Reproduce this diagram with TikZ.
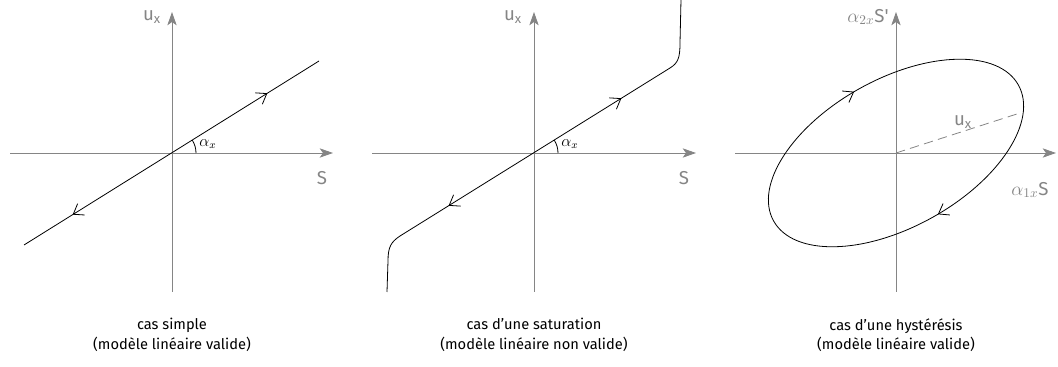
\documentclass[tikz,border=0pt]{standalone}
\usepackage{fontspec}
\setmainfont{Fira Sans}
\usetikzlibrary{arrows.meta,decorations.markings,positioning}
\definecolor{axisgray}{HTML}{858585}

\begin{document}
\begin{tikzpicture}[x=0.75pt,y=0.75pt,
ax/.style={draw=axisgray,line width=0.7pt,-{Stealth[length=10pt,width=7pt,inset=2.5pt]}},
crv/.style={draw=black,line width=0.6pt},
lbl/.style={text=axisgray,font=\fontsize{14}{16}\selectfont,inner sep=1pt},
legende/.style={align=center,font=\fontsize{11}{14.5}\selectfont},
barb/.style={postaction={decorate,decoration={markings,
  mark=at position #1 with {\arrow{Straight Barb[length=7pt,width=10pt]}}}}},
rbarb/.style={postaction={decorate,decoration={markings,
  mark=at position #1 with {\arrowreversed{Straight Barb[length=7pt,width=10pt]}}}}}]
\useasboundingbox (0,0) rectangle (1058,367);

% cas simple
\begin{scope}[shift={(172,214)}]
\coordinate (o1) at (0,0);
\draw[ax] (-162,0) -- (161,0);
\draw[ax] (0,-139) -- (0,141);
\draw[crv,barb=0.825,rbarb=0.165] (-148,-92) -- (147,92);
\draw[crv] (24,0) arc (0:32:24);
\node[font=\large] (a1) at (36,9) {$\alpha_x$};
\node[lbl] (u1) at (-20,136) {u\textsubscript{x}};
\node[lbl] (s1) at (150,-25) {S};
\end{scope}

% cas d'une saturation
\begin{scope}[shift={(534,214)}]
\coordinate (o2) at (0,0);
\draw[ax] (-162,0) -- (162,0);
\draw[ax] (0,-139) -- (0,141);
\draw[crv,barb=0.82,rbarb=0.18] (-134,-83) -- (136,85);
\draw[crv] (-134,-83) .. controls (-143,-89) and (-146,-94) .. (-146,-108) -- (-147,-139);
\draw[crv] (136,85) .. controls (144,90) and (146,95) .. (146,110) -- (147,153);
\draw[crv] (24,0) arc (0:32:24);
\node[font=\large] (a2) at (36,9) {$\alpha_x$};
\node[lbl] (u2) at (-21,136) {u\textsubscript{x}};
\node[lbl] (s2) at (150,-25) {S};
\end{scope}

% cas d'une hysteresis
\begin{scope}[shift={(896,214)}]
\coordinate (o3) at (0,0);
\coordinate (p3) at (124,40);
\draw[ax] (-161,0) -- (160,0);
\draw[ax] (0,-139) -- (0,141);
\draw[crv,rotate=29,yscale=-1,barb=0.24,barb=0.74] (0,0) ellipse [x radius=140,y radius=74];
\draw[axisgray,line width=0.6pt,dash pattern=on 7pt off 4pt] (o3) -- (p3);
\node[lbl] (u3) at (67,31) {u\textsubscript{x}};
\node[lbl] (s3) at (-28,136) {$\alpha_{2x}$S\textquotesingle};
\node[lbl] (s4) at (134,-37) {$\alpha_{1x}$S};
\end{scope}

\node[legende] (cap1) at (172,32) {cas simple\\(modèle linéaire valide)};
\node[legende] (cap2) at (534,32) {cas d'une saturation\\(modèle linéaire non valide)};
\node[legende] (cap3) at (896,32) {cas d'une hystérésis\\(modèle linéaire valide)};
\end{tikzpicture}
\end{document}
